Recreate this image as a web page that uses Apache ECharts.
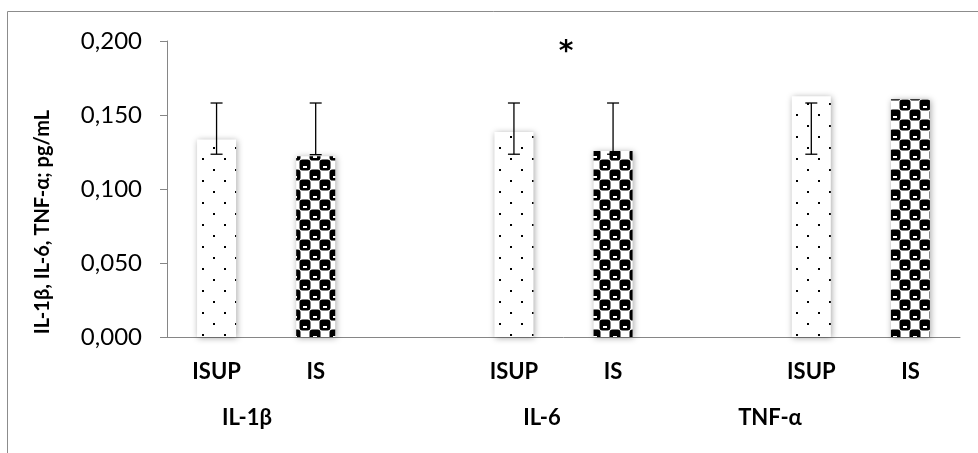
<!DOCTYPE html>
<html>
<head>
<meta charset="utf-8">
<script src="https://cdn.jsdelivr.net/npm/echarts@6/dist/echarts.min.js"></script>
<style>
  html, body { margin: 0; padding: 0; background: #fff; }
  #chart { width: 978px; height: 453px; }
</style>
</head>
<body>
<div id="chart"></div>
<script>
// slots on the x axis: two bars per cytokine with an empty slot between groups
var categories = ['IL-1β ISUP', 'IL-1β IS', 'gap1', 'IL-6 ISUP', 'IL-6 IS', 'gap2', 'TNF-α ISUP', 'TNF-α IS'];
var tickLabels = ['ISUP', 'IS', '', 'ISUP', 'IS', '', 'ISUP', 'IS'];
var groupLabels = ['IL-1β', 'IL-6', 'TNF-α'];
var groupLabelX = [247, 542, 770];
var means = [0.1334, 0.1221, null, 0.1385, 0.1257, null, 0.1626, 0.1606];
var errLow = [0.1235, 0.1232, null, 0.1235, 0.1235, null, 0.1235, null];
var errHigh = [0.1581, 0.1581, null, 0.1581, 0.1581, null, 0.1581, null];
var groupKind = ['ISUP', 'IS', null, 'ISUP', 'IS', null, 'ISUP', 'IS'];

function dotPattern() {
    var c = document.createElement('canvas');
    c.width = 22; c.height = 22;
    var ctx = c.getContext('2d');
    ctx.fillStyle = '#fff';
    ctx.fillRect(0, 0, 22, 22);
    ctx.fillStyle = '#000';
    ctx.fillRect(4, 4, 2, 2);
    ctx.fillRect(15, 15, 2, 2);
    return c;
}

function spherePattern() {
    var c = document.createElement('canvas');
    c.width = 20; c.height = 20;
    var ctx = c.getContext('2d');
    ctx.fillStyle = '#fff';
    ctx.fillRect(0, 0, 20, 20);
    ctx.fillStyle = '#000';
    function blob(x, y) {
        ctx.beginPath();
        ctx.moveTo(x + 3, y);
        ctx.lineTo(x + 8, y);
        ctx.quadraticCurveTo(x + 11, y, x + 11, y + 3);
        ctx.lineTo(x + 11, y + 8);
        ctx.quadraticCurveTo(x + 11, y + 11, x + 8, y + 11);
        ctx.lineTo(x + 3, y + 11);
        ctx.quadraticCurveTo(x, y + 11, x, y + 8);
        ctx.lineTo(x, y + 3);
        ctx.quadraticCurveTo(x, y, x + 3, y);
        ctx.fill();
    }
    blob(-0.5, -0.5); blob(9.5, 9.5);
    blob(19.5, -0.5); blob(-0.5, 19.5); blob(19.5, 19.5);
    blob(-10.5, 9.5); blob(9.5, -10.5);
    ctx.fillStyle = '#fff';
    ctx.fillRect(3, 6, 4, 2);
    ctx.fillRect(13, 16, 4, 2);
    return c;
}

var fills = {
    ISUP: { image: dotPattern(), repeat: 'repeat' },
    IS: { image: spherePattern(), repeat: 'repeat' }
};

var barData = means.map(function (v, i) {
    if (v == null) return null;
    return { value: v, itemStyle: { color: fills[groupKind[i]] } };
});

var errData = [];
for (var i = 0; i < categories.length; i++) {
    if (errLow[i] != null) errData.push([i, errLow[i], errHigh[i]]);
}

var chart = echarts.init(document.getElementById('chart'));

var gray = '#868686';

chart.setOption({
    animation: false,
    grid: { left: 167, right: 18, top: 41, bottom: 116 },
    xAxis: {
        type: 'category',
        data: categories,
        axisLine: { lineStyle: { color: gray } },
        axisTick: { length: 7, lineStyle: { color: gray } },
        axisLabel: {
            interval: 0,
            margin: 24,
            color: '#000',
            fontFamily: 'Lato',
            fontWeight: 'bold',
            fontSize: 22,
            formatter: function (v, idx) { return tickLabels[idx]; }
        }
    },
    yAxis: {
        type: 'value',
        min: 0,
        max: 0.2,
        interval: 0.05,
        axisLine: { show: true, lineStyle: { color: gray } },
        axisTick: { show: true, length: 7, lineStyle: { color: gray } },
        splitLine: { show: false },
        axisLabel: {
            margin: 25,
            color: '#000',
            fontFamily: 'Lato',
            fontSize: 24,
            formatter: function (v) { return v.toFixed(3).replace('.', ','); }
        }
    },
    series: [{
        type: 'bar',
        data: barData,
        barWidth: 39,
        itemStyle: {
            shadowBlur: 6,
            shadowColor: 'rgba(0,0,0,0.35)',
            shadowOffsetX: 1,
            shadowOffsetY: 1
        }
    }, {
        type: 'custom',
        data: errData,
        z: 10,
        renderItem: function (params, api) {
            var x = api.value(0);
            var lo = api.coord([x, api.value(1)]);
            var hi = api.coord([x, api.value(2)]);
            var w = 6;
            var st = { stroke: '#000', lineWidth: 1.3 };
            return {
                type: 'group',
                children: [
                    { type: 'line', shape: { x1: lo[0], y1: lo[1], x2: hi[0], y2: hi[1] }, style: st },
                    { type: 'line', shape: { x1: lo[0] - w, y1: lo[1], x2: lo[0] + w, y2: lo[1] }, style: st },
                    { type: 'line', shape: { x1: hi[0] - w, y1: hi[1], x2: hi[0] + w, y2: hi[1] }, style: st }
                ]
            };
        }
    }],
    graphic: [
        {
            type: 'rect',
            shape: { x: 7.5, y: 11.5, width: 1000, height: 500 },
            style: { fill: null, stroke: '#8c8c8c', lineWidth: 1 },
            silent: true
        },
        {
            type: 'text',
            x: 43, y: 222,
            rotation: Math.PI / 2,
            style: {
                text: 'IL-1β, IL-6, TNF-α; pg/mL',
                fontFamily: 'Lato', fontWeight: 'bold', fontSize: 20,
                fill: '#000', align: 'center', verticalAlign: 'middle'
            }
        },
        {
            type: 'text',
            x: 566, y: 53,
            style: {
                text: '*', fontFamily: 'DejaVu Sans', fontWeight: 'bold', fontSize: 28,
                fill: '#000', align: 'center', verticalAlign: 'middle'
            }
        }
    ].concat(groupLabels.map(function (t, i) {
        return {
            type: 'text',
            x: groupLabelX[i], y: 418,
            style: {
                text: t, fontFamily: 'Lato', fontWeight: 'bold', fontSize: 22,
                fill: '#000', align: 'center', verticalAlign: 'middle'
            }
        };
    }))
});
</script>
</body>
</html>
